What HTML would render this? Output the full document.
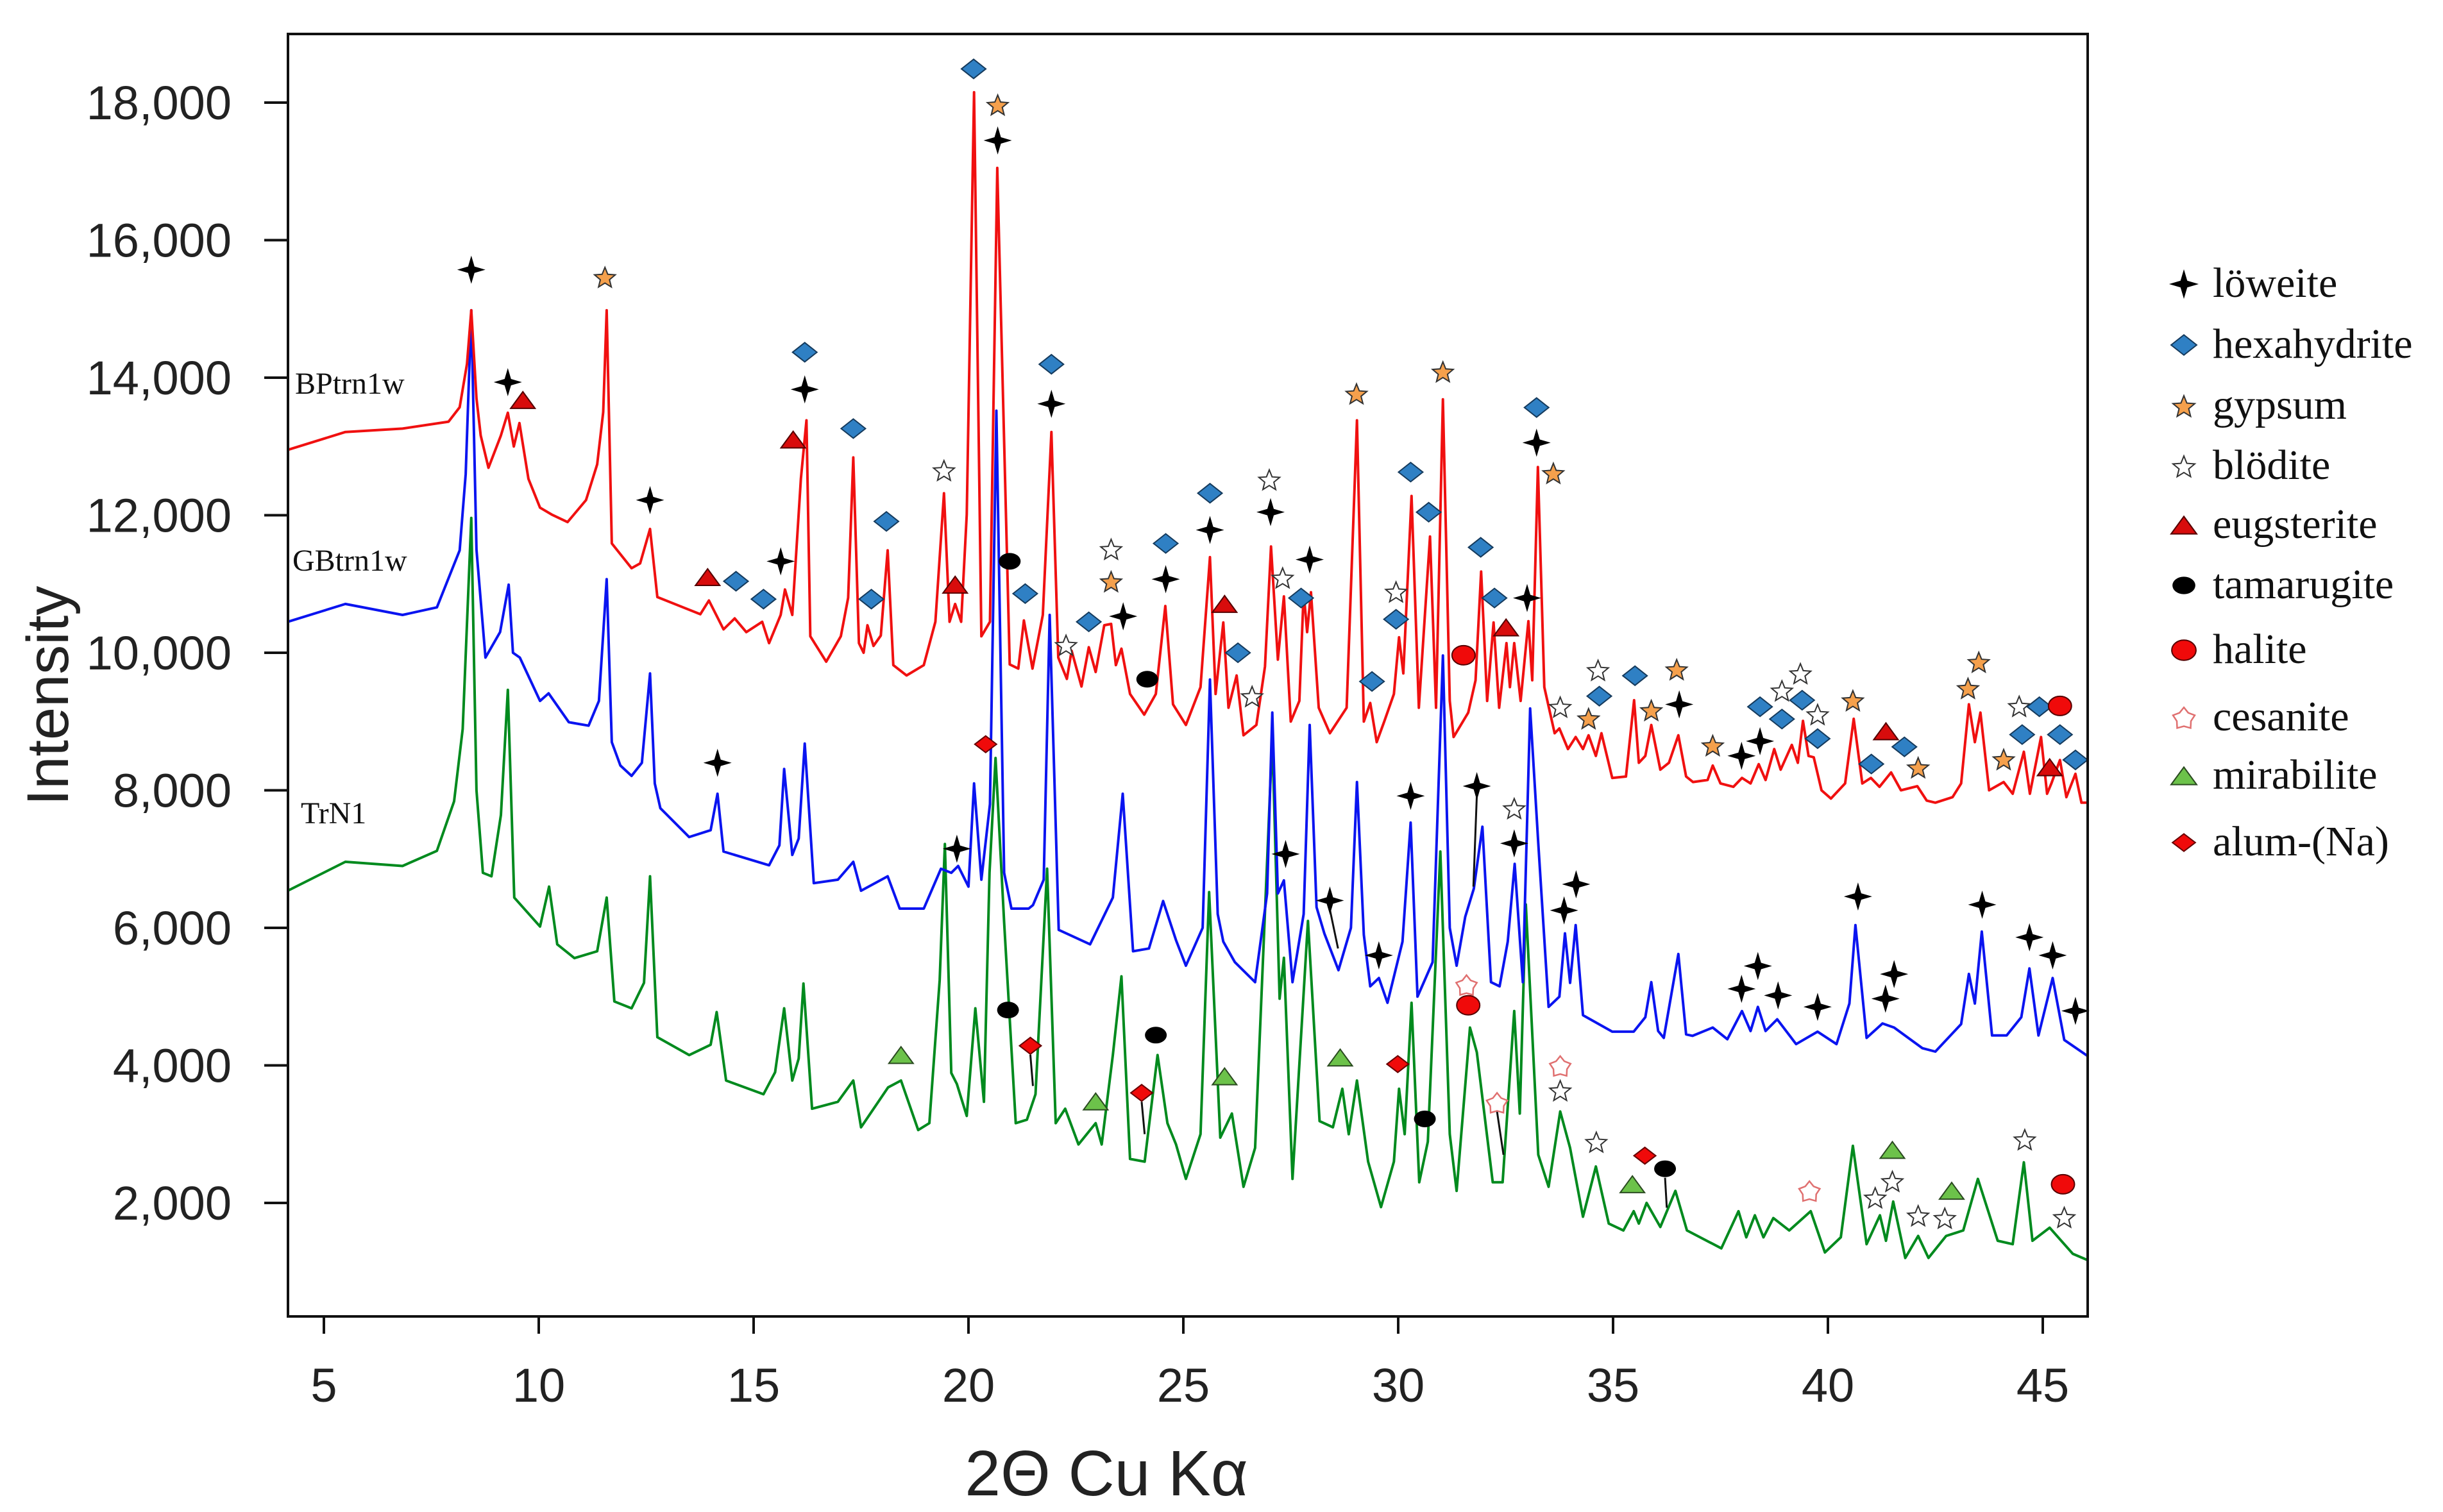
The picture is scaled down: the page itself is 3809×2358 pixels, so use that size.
<!DOCTYPE html>
<html><head><meta charset="utf-8"><title>XRD patterns</title>
<style>
html,body{margin:0;padding:0;background:#fff;}
svg{display:block;}
.tick{font-family:"Liberation Sans",Arial,sans-serif;font-size:74px;fill:#222;}
.leg{font-family:"Liberation Serif",serif;font-size:66px;fill:#111;}
.samp{font-family:"Liberation Serif",serif;font-size:48px;fill:#111;}
</style></head>
<body>
<svg id="chart" width="3809" height="2358" viewBox="0 0 3809 2358" xmlns="http://www.w3.org/2000/svg">
<rect x="0" y="0" width="3809" height="2358" fill="#fff"/>
<defs><clipPath id="plotclip"><rect x="449" y="53" width="2806" height="2000"/></clipPath></defs>
<g id="axes"></g>
<g id="series" clip-path="url(#plotclip)"></g>
<g id="leaders"></g>
<g id="markers"></g>
<rect x="449" y="53" width="2806" height="2000" fill="none" stroke="#111" stroke-width="4"/>
<text class="samp" x="460" y="614">BPtrn1w</text>
<text class="samp" x="456" y="890">GBtrn1w</text>
<text class="samp" x="469" y="1284">TrN1</text>
<text x="75" y="1085" transform="rotate(-90 75 1085)" text-anchor="middle" dominant-baseline="central" style="font-family:'Liberation Sans',Arial,sans-serif;font-size:92px;fill:#222">Intensity</text>
<text x="1725" y="2332" text-anchor="middle" style="font-family:'Liberation Sans',Arial,sans-serif;font-size:100px;fill:#222">2Θ Cu Kα</text>
<g id="legend"></g>
</svg>
<script>
const xTicks=[5,10,15,20,25,30,35,40,45];
const yTicks=[2000,4000,6000,8000,10000,12000,14000,16000,18000];
const yTickLabels=["2,000","4,000","6,000","8,000","10,000","12,000","14,000","16,000","18,000"];

const redX=[4.16,5.5,6.83,7.9,8.16,8.33,8.43,8.55,8.65,8.83,9.12,9.28,9.42,9.55,9.76,10.03,10.3,10.67,11.1,11.36,11.5,11.58,11.7,12.16,12.36,12.59,12.76,13.36,13.76,13.96,14.3,14.56,14.83,15.2,15.36,15.63,15.73,15.9,16.1,16.23,16.32,16.69,17.03,17.2,17.32,17.45,17.56,17.65,17.79,17.96,18.12,18.25,18.56,18.96,19.23,19.43,19.56,19.69,19.83,19.96,20.13,20.3,20.5,20.67,20.96,21.16,21.29,21.49,21.73,21.93,22.09,22.29,22.4,22.63,22.8,22.96,23.16,23.32,23.43,23.56,23.76,24.09,24.36,24.58,24.76,25.06,25.4,25.62,25.75,25.93,26.05,26.24,26.4,26.7,26.9,27.04,27.2,27.34,27.5,27.7,27.8,27.88,27.97,28.15,28.41,28.8,29.04,29.2,29.35,29.5,29.68,29.9,30.02,30.12,30.31,30.48,30.74,30.88,31.04,31.2,31.29,31.63,31.8,31.93,32.07,32.22,32.35,32.52,32.6,32.7,32.85,33.03,33.12,33.25,33.4,33.64,33.75,33.95,34.13,34.3,34.43,34.6,34.73,34.98,35.3,35.49,35.6,35.75,35.89,36.1,36.3,36.52,36.7,36.86,37.2,37.32,37.5,37.8,38.0,38.2,38.39,38.55,38.75,38.9,39.16,39.3,39.42,39.55,39.67,39.85,40.07,40.4,40.6,40.8,41.0,41.2,41.47,41.7,42.08,42.3,42.5,42.9,43.1,43.28,43.42,43.55,43.75,44.09,44.3,44.56,44.7,44.96,45.1,45.2,45.4,45.55,45.76,45.9,46.06];
const redY=[12950,13210,13260,13360,13570,14200,14980,13700,13160,12690,13160,13490,13000,13340,12530,12110,12010,11900,12220,12740,13500,14980,11590,11230,11300,11800,10810,10660,10560,10760,10340,10500,10300,10450,10140,10550,10920,10550,12530,13380,10240,9870,10240,10800,12840,10140,10000,10400,10100,10250,11490,9820,9670,9820,10450,12320,10450,10710,10450,12010,18150,10240,10450,17050,9830,9770,10470,9770,10550,13210,9930,9620,10030,9510,10080,9720,10400,10420,9820,10060,9400,9100,9400,10680,9250,8950,9500,11390,9400,10440,9200,9670,8800,8950,9800,11545,9900,10820,9000,9300,10880,10300,10880,9200,8830,9200,13380,9000,9270,8700,9010,9400,10225,9700,12280,9200,11690,9200,13685,9300,8775,9130,9600,11180,9300,10440,9200,10140,9500,10140,9300,10460,9600,12700,9500,8830,8900,8600,8775,8600,8800,8500,8830,8180,8200,9310,8400,8500,8950,8300,8400,8800,8200,8120,8150,8360,8100,8050,8180,8100,8380,8150,8600,8300,8660,8400,9010,8500,8480,8000,7880,8100,9040,8100,8180,8050,8260,8000,8060,7850,7820,7900,8100,9250,8700,9130,8000,8120,7950,8560,7950,8775,7950,8100,8440,7900,8240,7820,7820];

const blueX=[4.16,5.5,6.83,7.63,8.16,8.3,8.43,8.55,8.76,9.1,9.3,9.4,9.56,10.03,10.23,10.7,11.16,11.4,11.58,11.7,11.9,12.16,12.4,12.59,12.7,12.83,13.5,14.0,14.16,14.3,15.36,15.6,15.71,15.9,16.05,16.19,16.4,16.96,17.32,17.5,18.12,18.4,18.96,19.36,19.6,19.76,20.0,20.13,20.3,20.5,20.65,20.83,21.0,21.4,21.5,21.75,21.89,22.1,22.83,23.36,23.59,23.83,24.2,24.53,24.83,25.06,25.45,25.62,25.8,25.93,26.2,26.67,26.95,27.07,27.2,27.34,27.54,27.8,27.94,28.1,28.28,28.61,28.9,29.04,29.2,29.35,29.55,29.75,30.1,30.29,30.45,30.8,31.04,31.2,31.36,31.56,31.76,31.96,32.16,32.36,32.55,32.71,32.9,33.07,33.26,33.5,33.75,33.88,34.0,34.13,34.3,34.98,35.48,35.75,35.89,36.05,36.18,36.52,36.7,36.85,37.32,37.66,38.0,38.2,38.37,38.55,38.82,39.26,39.76,40.2,40.5,40.64,40.9,41.27,41.54,42.2,42.5,43.1,43.28,43.42,43.58,43.82,44.16,44.5,44.69,44.9,45.23,45.5,46.06];
const blueY=[10450,10710,10550,10660,11490,12600,14980,11500,9930,10300,10990,10000,9930,9300,9410,8990,8940,9300,11070,8700,8360,8210,8400,9700,8100,7740,7320,7420,7950,7110,6910,7200,8310,7060,7300,8680,6650,6700,6960,6540,6750,6280,6280,6860,6800,6900,6600,8100,6700,7800,13520,6800,6280,6280,6330,6700,10550,5970,5760,6440,7950,5660,5700,6390,5820,5450,6000,9610,6200,5800,5500,5210,6500,9130,6500,6690,5210,6200,8950,6300,5920,5385,6000,8120,5900,5150,5270,4910,5800,7530,5000,5500,9960,6000,5450,6160,6570,7470,5210,5150,5800,6930,5210,9190,7230,4850,5000,5920,5200,6040,4730,4490,4490,4700,5210,4500,4400,5620,4450,4430,4550,4380,4790,4500,4850,4500,4670,4310,4490,4310,4900,6040,4400,4610,4550,4250,4200,4600,5330,4900,5945,4435,4435,4700,5410,4435,5270,4370,4130];

const greenX=[4.16,5.5,6.83,7.63,8.03,8.23,8.43,8.55,8.7,8.9,9.12,9.28,9.43,10.03,10.24,10.43,10.83,11.36,11.58,11.76,12.16,12.45,12.59,12.76,13.5,14.0,14.14,14.36,15.23,15.5,15.71,15.9,16.05,16.16,16.36,16.96,17.32,17.5,18.13,18.43,18.83,19.09,19.33,19.45,19.6,19.73,19.96,20.16,20.36,20.49,20.63,20.83,21.1,21.36,21.56,21.83,22.03,22.25,22.56,22.96,23.1,23.36,23.56,23.76,24.1,24.4,24.63,24.83,25.06,25.4,25.6,25.86,26.13,26.4,26.67,27.07,27.24,27.34,27.54,27.9,28.17,28.48,28.7,28.85,29.04,29.3,29.6,29.9,30.02,30.15,30.31,30.49,30.69,30.98,31.2,31.36,31.67,31.83,32.2,32.43,32.7,32.83,32.97,33.26,33.5,33.77,34.0,34.3,34.6,34.9,35.24,35.48,35.6,35.78,36.1,36.45,36.72,37.52,37.92,38.1,38.3,38.5,38.73,39.1,39.6,39.93,40.3,40.58,40.9,41.21,41.35,41.52,41.8,42.1,42.34,42.75,43.15,43.49,43.95,44.3,44.56,44.76,45.16,45.7,46.06];
const greenY=[6540,6960,6900,7120,7840,8890,11960,8000,6800,6750,7640,9460,6440,6020,6600,5760,5560,5660,6440,4930,4830,5200,6750,4410,4150,4300,4775,3780,3580,3900,4830,3780,4100,5190,3370,3470,3780,3100,3680,3780,3060,3160,5240,7220,3890,3730,3265,4830,3470,6800,8470,6080,3160,3210,3580,6860,3160,3370,2850,3160,2850,4150,5295,2640,2600,4150,3160,2850,2350,3000,6520,2950,3300,2235,2800,8775,4970,5565,2350,6100,3190,3100,3660,3000,3780,2600,1940,2600,3660,3000,4910,2300,2890,7110,3000,2175,4550,4190,2300,2300,4790,3300,6340,2700,2235,3330,2800,1800,2530,1700,1600,1880,1700,2000,1650,2175,1600,1340,1880,1500,1820,1500,1780,1600,1880,1280,1500,2830,1400,1820,1450,2020,1200,1520,1200,1520,1600,2350,1450,1400,2590,1450,1640,1260,1165];

const markerType=["low","low","eug","gyp","hex","low","eug","hex","low","hex","blo","low","eug","hex","hex","hex","eug","tam","hex","hex","low","blo","gyp","low","hex","blo","tam","hex","low","hex","gyp","low",
"hex","low","eug","hex","blo","blo","low","blo","hex","low","gyp","hex","blo","hex","hex","hex","gyp","hal","hex","hex","eug","low","hex","low","gyp","blo","blo","hex","gyp","hex","gyp","gyp","low","gyp","low","low","hex","blo","hex","blo","hex","blo","hex","gyp","eug","hex","hex","gyp","gyp","gyp","gyp","blo","hex","hex","hal","hex","eug","hex",
"low","alum","low","low","low","low","low","low","blo","low","low","low","low","low","low","low","low","low","low","low","low","low","low",
"tam","alum","mir","mir","alum","tam","ces","hal","mir","mir","alum","tam","ces","ces","blo","blo","alum","tam","mir","ces","mir","blo","blo","blo","blo","mir","blo","hal","blo"];
const markerX=[8.43,9.28,9.63,11.54,16.19,16.19,15.92,17.32,12.59,18.09,19.43,15.63,13.93,14.59,15.23,17.74,19.69,20.96,21.32,21.93,21.93,23.32,23.32,23.6,22.8,22.27,24.16,24.59,24.59,20.12,20.68,20.68,
25.62,25.62,25.96,26.27,26.6,27.0,27.03,27.31,27.74,27.94,29.03,29.39,29.95,29.95,30.29,30.71,31.04,31.52,31.92,32.24,32.51,33.0,33.22,33.22,33.61,33.77,34.65,34.68,34.43,35.51,35.89,36.48,36.54,37.32,37.99,38.42,38.42,38.93,38.93,39.36,39.4,39.76,39.76,40.58,41.35,41.01,41.78,42.1,43.26,43.51,44.09,44.45,44.52,44.92,45.4,45.4,45.16,45.76,
14.16,20.4,19.73,27.38,28.41,29.55,30.29,31.83,32.7,32.7,33.86,34.14,40.7,43.59,37.99,38.37,38.84,39.76,41.54,41.34,44.69,45.23,45.76,
20.92,21.44,18.43,22.96,24.03,24.36,31.59,31.63,25.96,28.65,29.99,30.62,32.3,33.77,33.77,34.61,35.74,36.21,35.45,39.57,41.5,41.5,41.1,42.1,42.72,42.88,44.58,45.47,45.5];
const markerY=[15570,13935,13675,15465,14370,13830,13100,13260,12220,11910,12655,11330,11100,11040,10780,10780,10990,11330,10860,14195,13620,11510,11040,10530,10450,10115,9615,11590,11070,18490,17970,17450,
12320,11785,10710,10000,9370,12520,12045,11093,10796,11355,13770,9583,10890,10487,12627,12044,14090,9964,11533,10796,10368,10796,13566,13055,12615,9215,9750,9369,9048,9666,9167,9761,9250,8656,8501,8715,9215,9452,9036,9702,9310,9107,8751,9310,8858,8382,8632,8335,9488,9868,8454,9227,8810,9215,9227,8810,8335,8442,
8400,8670,7150,7074,6397,5600,7918,8061,7740,7229,6254,6634,6456,6337,5113,5445,5017,4851,5327,4970,5862,5600,4792,
4805,4285,4150,3475,3600,4440,5172,4874,3840,4114,4019,3222,3460,3995,3638,2889,2687,2497,2271,2176,2770,2318,2080,1819,1783,2176,2925,2271,1795];

const leaderX1=[21.44,24.03,28.41,31.83,32.3,36.21];
const leaderY1=[4285,3600,6397,8061,3460,2497];
const leaderX2=[21.5,24.1,28.6,31.75,32.45,36.25];
const leaderY2=[3700,3000,5700,6600,2700,1930];

const legendTypes=["low","hex","gyp","blo","eug","tam","hal","ces","mir","alum"];
const legendNames=["löweite","hexahydrite","gypsum","blödite","eugsterite","tamarugite","halite","cesanite","mirabilite","alum-(Na)"];

const NS="http://www.w3.org/2000/svg";
function xs(t){return 505+(t-5)*67;}
function ys(v){return 160+(18000-v)*0.10725;}
function mk(tag,attrs,parent){const e=document.createElementNS(NS,tag);for(const k in attrs)e.setAttribute(k,attrs[k]);parent.appendChild(e);return e;}

const axes=document.getElementById('axes');
xTicks.forEach(function(t){
  const l=mk('line',{x1:xs(t),x2:xs(t),y1:2053,y2:2080,stroke:'#111','stroke-width':4},axes);
  
  
  const tx=mk('text',{x:xs(t),y:2186,'text-anchor':'middle','class':'tick'},axes);
  tx.textContent=String(t);
  
  
});
yTicks.forEach(function(v,i){
  const l=mk('line',{x1:412,x2:449,y1:ys(v),y2:ys(v),stroke:'#111','stroke-width':4},axes);
  
  
  const tx=mk('text',{x:361,y:ys(v)+26,'text-anchor':'end','class':'tick'},axes);
  tx.textContent=yTickLabels[i];
  
  
});

const series=document.getElementById('series');
function drawSeries(X,Y,color,name){
  let d='';
  for(let i=0;i<X.length;i++){d+=(i?'L':'M')+xs(X[i]).toFixed(1)+' '+ys(Y[i]).toFixed(1);}
  const p=mk('path',{d:d,fill:'none',stroke:color,'stroke-width':4,'stroke-linejoin':'round'},series);
  
  
}
drawSeries(greenX,greenY,'#008a1e','series-trn1');
drawSeries(blueX,blueY,'#0a14f0','series-gbtrn1w');
drawSeries(redX,redY,'#f01010','series-bptrn1w');

const leaders=document.getElementById('leaders');
for(let i=0;i<leaderX1.length;i++){
  const l=mk('line',{x1:xs(leaderX1[i]),y1:ys(leaderY1[i])+14,x2:xs(leaderX2[i]),y2:ys(leaderY2[i]),stroke:'#111','stroke-width':3},leaders);
  
  
}

function starPts(cx,cy,R,r,n){let p=[];for(let i=0;i<2*n;i++){const a=-Math.PI/2+i*Math.PI/n;const rr=i%2?r:R;p.push((cx+rr*Math.cos(a)).toFixed(1)+','+(cy+rr*Math.sin(a)).toFixed(1));}return p.join(' ');}
function drawMarker(type,cx,cy,parent,s){
  s=s||1;let e;
  if(type==='low'){
    const R=22*s,w=5*s;
    e=mk('polygon',{points:[cx+','+(cy-R),(cx+w)+','+(cy-w),(cx+R)+','+cy,(cx+w)+','+(cy+w),cx+','+(cy+R),(cx-w)+','+(cy+w),(cx-R)+','+cy,(cx-w)+','+(cy-w)].join(' '),fill:'#000'},parent);
  }else if(type==='hex'||type==='alum'){
    const w=(type==='hex'?19:17)*s,h=(type==='hex'?15:13)*s;
    e=mk('polygon',{points:(cx-w)+','+cy+' '+cx+','+(cy-h)+' '+(cx+w)+','+cy+' '+cx+','+(cy+h),fill:type==='hex'?'#2f80c4':'#f00a0a',stroke:type==='hex'?'#153a5c':'#600','stroke-width':2},parent);
  }else if(type==='gyp'||type==='blo'){
    e=mk('polygon',{points:starPts(cx,cy+2,17*s,7.5*s,5),fill:type==='gyp'?'#f5a04c':'#fff',stroke:'#333','stroke-width':2},parent);
  }else if(type==='ces'){
    e=mk('polygon',{points:starPts(cx,cy+2,17*s,11*s,5),fill:'#fff',stroke:'#e07070','stroke-width':2.5},parent);
  }else if(type==='eug'||type==='mir'){
    const w=19*s,h=26*s;
    e=mk('polygon',{points:(cx-w)+','+(cy+h/2)+' '+cx+','+(cy-h/2)+' '+(cx+w)+','+(cy+h/2),fill:type==='eug'?'#d80c0c':'#6cc24a',stroke:type==='eug'?'#500':'#2a4a20','stroke-width':2},parent);
  }else if(type==='tam'){
    e=mk('ellipse',{cx:cx,cy:cy,rx:17*s,ry:13*s,fill:'#000'},parent);
  }else if(type==='hal'){
    e=mk('ellipse',{cx:cx,cy:cy,rx:18*s,ry:15*s,fill:'#f00a0a',stroke:'#500','stroke-width':2},parent);
  }
  return e;
}
const markers=document.getElementById('markers');
for(let i=0;i<markerType.length;i++){
  const e=drawMarker(markerType[i],xs(markerX[i]),ys(markerY[i]),markers,1);
  
  
}

const legend=document.getElementById('legend');
const legendRowY=[443,538,633,727,819,913,1014,1119,1210,1314];
for(let i=0;i<legendTypes.length;i++){
  const g=mk('g',{},legend);
  
  
  drawMarker(legendTypes[i],3405,legendRowY[i],g,1.05);
  const t=mk('text',{x:3450,y:legendRowY[i]+20,'class':'leg'},g);
  t.textContent=legendNames[i];
}
</script>
</body></html>
